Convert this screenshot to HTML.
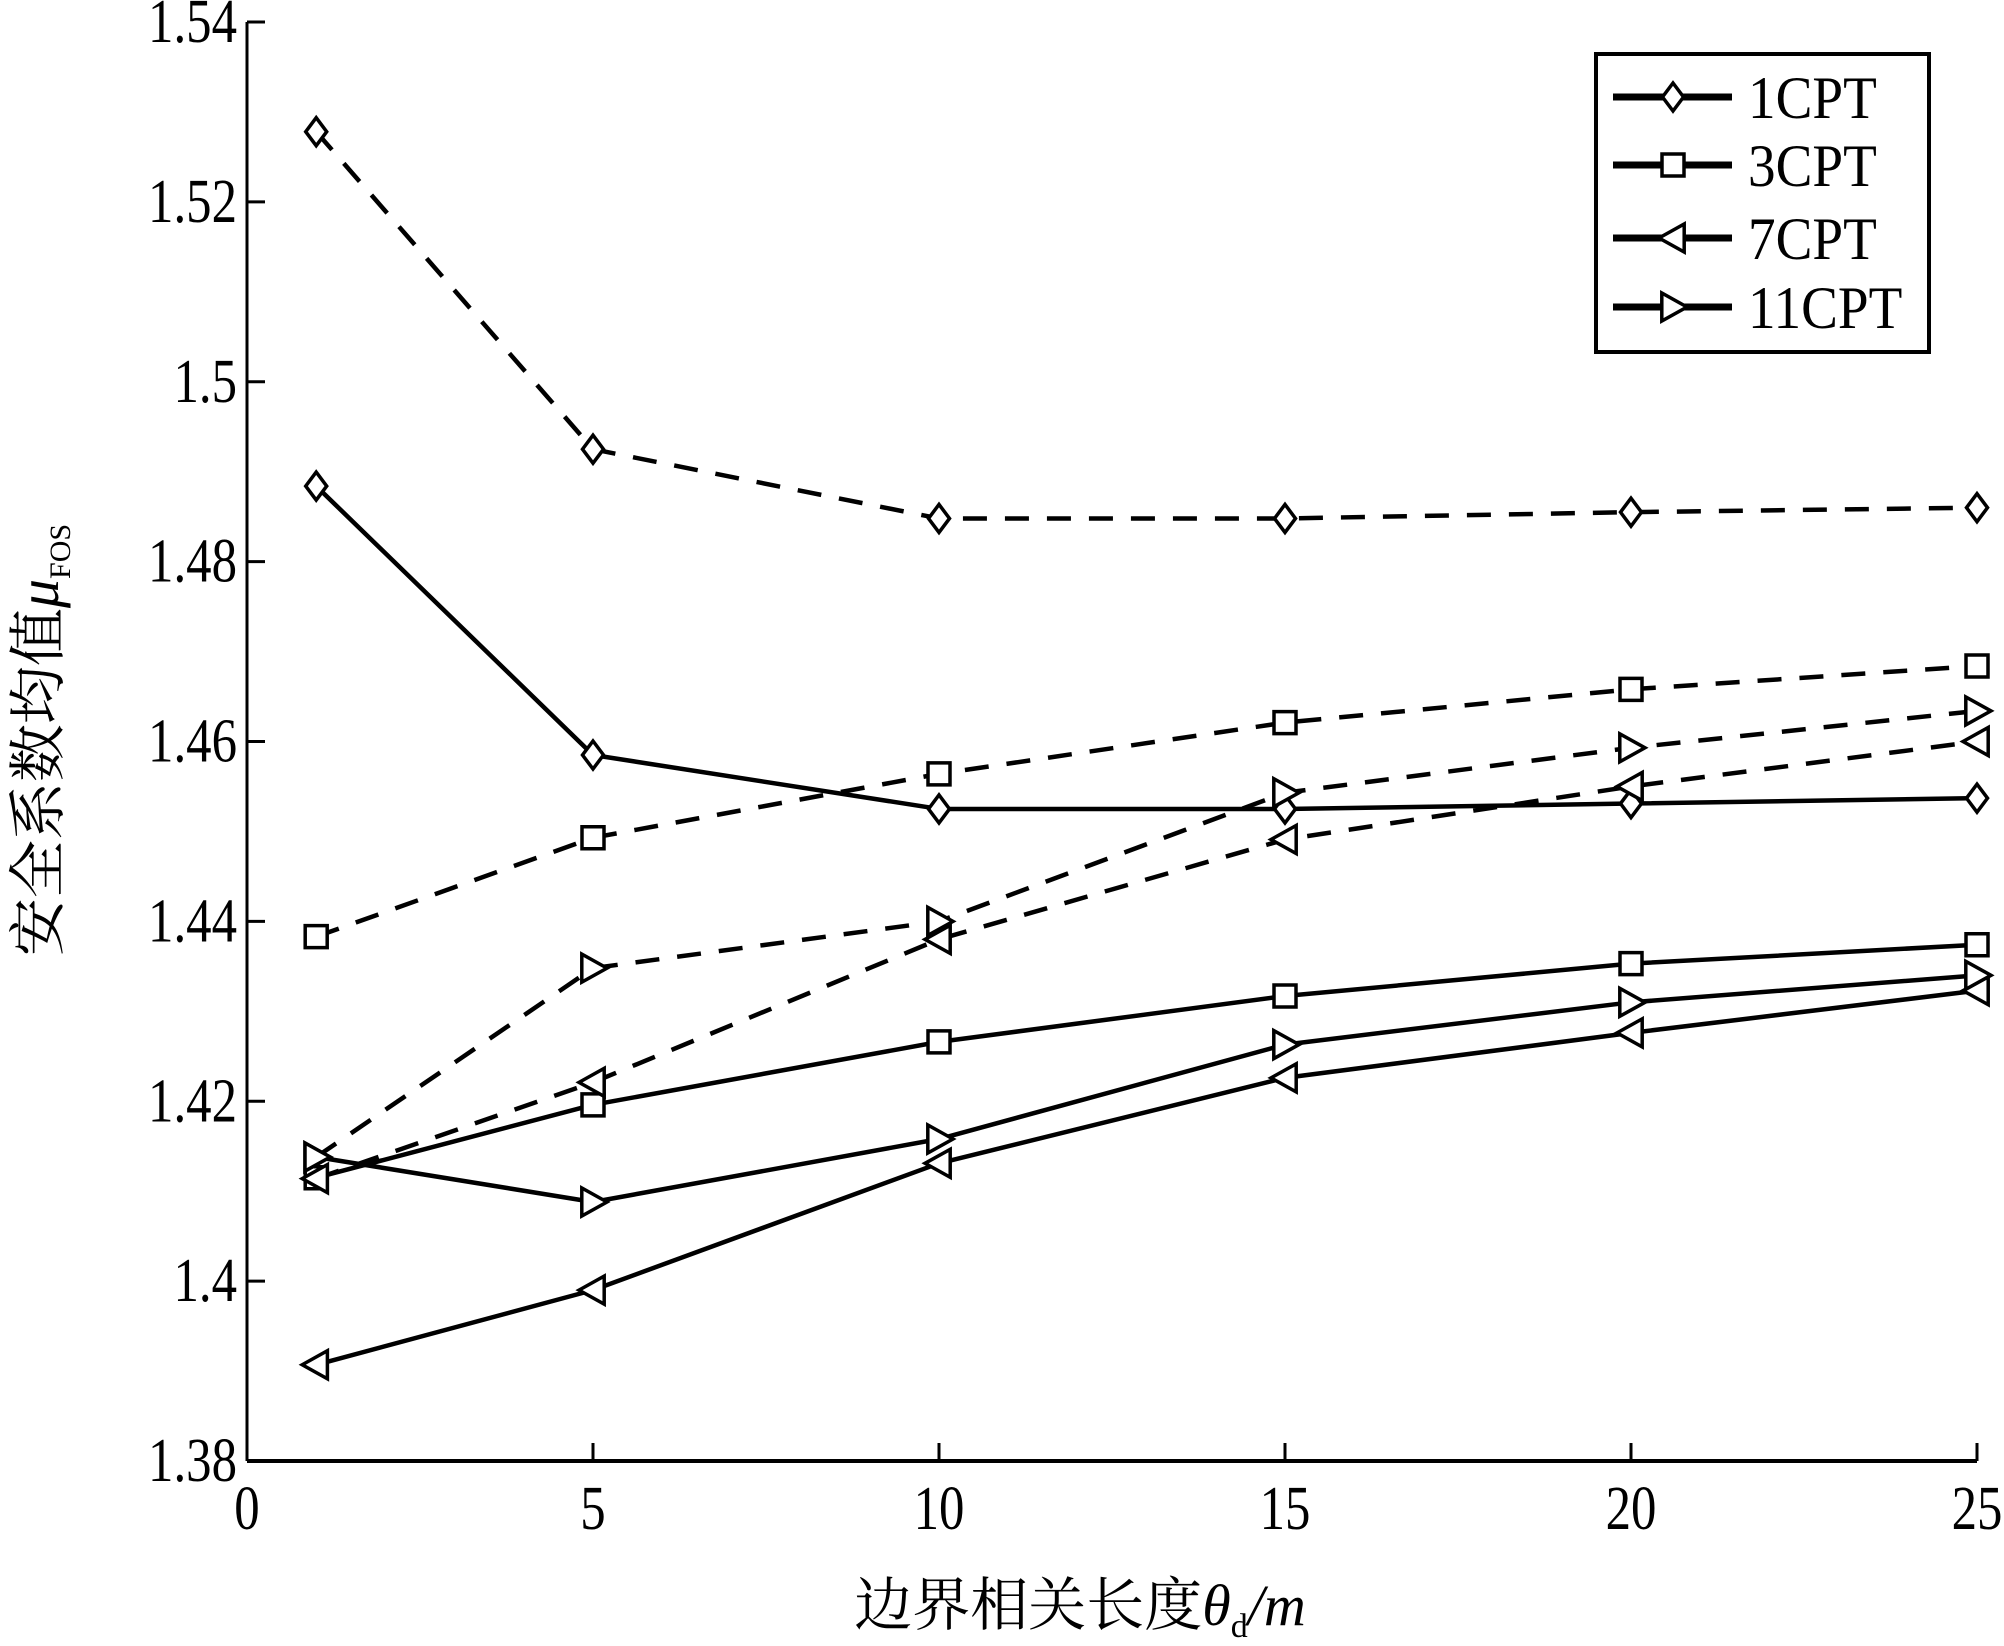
<!DOCTYPE html>
<html><head><meta charset="utf-8"><style>
html,body{margin:0;padding:0;background:#fff;}
svg{display:block;}
text{font-family:"Liberation Serif","Noto Serif CJK SC",serif;fill:#000;}
</style></head><body>
<svg id="chart" width="2004" height="1646" viewBox="0 0 2004 1646" xmlns="http://www.w3.org/2000/svg">
<g id="plot"></g>
</svg>
<script>
const xValues = [1, 5, 10, 15, 20, 25];
const xTicks = [0, 5, 10, 15, 20, 25];
const yTicks = [1.38, 1.40, 1.42, 1.44, 1.46, 1.48, 1.50, 1.52, 1.54];
const yTickLabels = ["1.38", "1.4", "1.42", "1.44", "1.46", "1.48", "1.5", "1.52", "1.54"];
const seriesNames = ["1CPT", "3CPT", "7CPT", "11CPT"];
const solid1 = [1.4884, 1.4585, 1.4525, 1.4525, 1.4531, 1.4537];
const dashed1 = [1.5278, 1.4925, 1.4848, 1.4848, 1.4855, 1.4860];
const solid3 = [1.4115, 1.4196, 1.4266, 1.4317, 1.4353, 1.4374];
const dashed3 = [1.4383, 1.4493, 1.4564, 1.4621, 1.4658, 1.4684];
const solid7 = [1.3907, 1.3990, 1.4131, 1.4226, 1.4276, 1.4323];
const dashed7 = [1.4114, 1.4221, 1.4380, 1.4491, 1.4550, 1.4600];
const solid11 = [1.4138, 1.4088, 1.4158, 1.4263, 1.4310, 1.4340];
const dashed11 = [1.4138, 1.4348, 1.4400, 1.4543, 1.4593, 1.4634];

const NS = "http://www.w3.org/2000/svg";
const X0 = 247, X1 = 1977, Y0 = 1461, Y1 = 22;
const xMin = 0, xMax = 25, yMin = 1.38, yMax = 1.54;
function sx(v){ return X0 + (v - xMin) / (xMax - xMin) * (X1 - X0); }
function sy(v){ return Y0 - (v - yMin) / (yMax - yMin) * (Y0 - Y1); }
const plot = document.getElementById('plot');
function mk(tag, attrs, parent){
  const e = document.createElementNS(NS, tag);
  for (const k in attrs) e.setAttribute(k, attrs[k]);
  (parent || plot).appendChild(e);
  return e;
}
function marker(type, cx, cy, g){
  const s = 14;
  let d;
  if (type === 'diamond') d = `M${cx},${cy-s} L${cx+s*0.75},${cy} L${cx},${cy+s} L${cx-s*0.75},${cy} Z`;
  else if (type === 'square') d = `M${cx-11},${cy-11} h22 v22 h-22 Z`;
  else if (type === 'left') d = `M${cx-s},${cy} L${cx+s*0.8},${cy-s} L${cx+s*0.8},${cy+s} Z`;
  else d = `M${cx+s},${cy} L${cx-s*0.8},${cy-s} L${cx-s*0.8},${cy+s} Z`;
  const m = mk('path', {d: d, fill: '#fff', stroke: '#000', 'stroke-width': 3.5}, g);
  
  
}
// axes
const axes = mk('g', {});


const yAxis = mk('line', {x1: X0, y1: Y0, x2: X0, y2: Y1, stroke: '#000', 'stroke-width': 3}, axes);


const xAxis = mk('line', {x1: X0, y1: Y0, x2: X1, y2: Y0, stroke: '#000', 'stroke-width': 4}, axes);


yTicks.forEach((v, i) => {
  const t = mk('line', {x1: X0, y1: sy(v), x2: X0 + 18, y2: sy(v), stroke: '#000', 'stroke-width': 3}, axes);
  
  
  const l = mk('text', {x: 0, y: 0, 'font-size': 62, 'text-anchor': 'end', transform: `translate(${X0-10},${sy(v)+20}) scale(0.82,1)`}, axes);
  l.textContent = yTickLabels[i];
  
  
});
xTicks.forEach(v => {
  const t = mk('line', {x1: sx(v), y1: Y0, x2: sx(v), y2: Y0 - 18, stroke: '#000', 'stroke-width': 3}, axes);
  
  
  const l = mk('text', {x: 0, y: 0, 'font-size': 62, 'text-anchor': 'middle', transform: `translate(${sx(v)},${Y0+68}) scale(0.82,1)`}, axes);
  l.textContent = String(v);
  
  
});
// axis titles
const xt = mk('text', {x: 1080, y: 1625, 'font-size': 58, 'text-anchor': 'middle'}, axes);
xt.innerHTML = '边界相关长度<tspan font-style="italic">θ</tspan><tspan font-size="34" dy="12">d</tspan><tspan dy="-12" font-style="italic">/m</tspan>';


const yt = mk('text', {x: 0, y: 0, 'font-size': 58, 'text-anchor': 'middle', transform: 'translate(58,740) rotate(-90)'}, axes);
yt.innerHTML = '安全系数均值<tspan font-style="italic">μ</tspan><tspan font-size="30" dy="12">FOS</tspan>';


// series
const seriesDefs = [
  [solid1, false, 'diamond', 'series-1cpt-solid'],
  [dashed1, true, 'diamond', 'series-1cpt-dashed'],
  [solid3, false, 'square', 'series-3cpt-solid'],
  [dashed3, true, 'square', 'series-3cpt-dashed'],
  [solid7, false, 'left', 'series-7cpt-solid'],
  [dashed7, true, 'left', 'series-7cpt-dashed'],
  [solid11, false, 'right', 'series-11cpt-solid'],
  [dashed11, true, 'right', 'series-11cpt-dashed']
];
seriesDefs.forEach(([vals, dashed, mtype, name]) => {
  const g = mk('g', {});
  
  
  const pts = vals.map((v, i) => `${sx(xValues[i])},${sy(v)}`).join(' ');
  const attrs = {points: pts, fill: 'none', stroke: '#000', 'stroke-width': 4.5, 'stroke-linejoin': 'round'};
  if (dashed) attrs['stroke-dasharray'] = '24,18';
  const pl = mk('polyline', attrs, g);
  
  
  vals.forEach((v, i) => marker(mtype, sx(xValues[i]), sy(v), g));
});
// legend
const lg = mk('g', {});


const box = mk('rect', {x: 1596, y: 54, width: 333, height: 298, fill: '#fff', stroke: '#000', 'stroke-width': 4}, lg);


const legTypes = ['diamond', 'square', 'left', 'right'];
const legY = [97, 165, 238, 307];
seriesNames.forEach((n, i) => {
  const e = mk('g', {}, lg);
  
  
  mk('line', {x1: 1613, y1: legY[i], x2: 1732, y2: legY[i], stroke: '#000', 'stroke-width': 7}, e);
  marker(legTypes[i], 1673, legY[i], e);
  const t = mk('text', {x: 0, y: 0, 'font-size': 60, transform: `translate(1748,${legY[i]+21}) scale(0.92,1)`}, e);
  t.textContent = n;
  
  
});
</script>
</body></html>
